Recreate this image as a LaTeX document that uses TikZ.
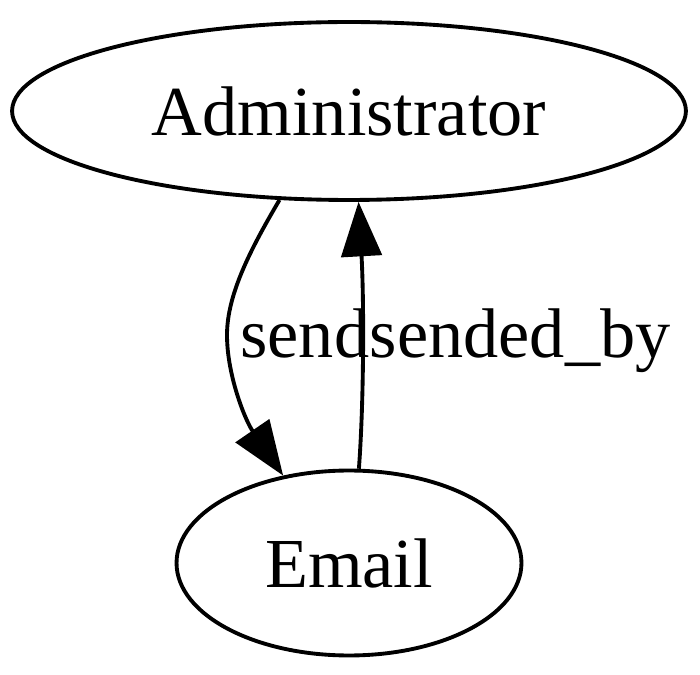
\documentclass[tikz,border=0pt]{standalone}
\usepackage{fontspec}
\setmainfont{Liberation Serif}
\usetikzlibrary{arrows.meta,shapes.geometric}
\begin{document}
\begin{tikzpicture}[x=0.02cm,y=-0.02cm,
    entity/.style={shape=ellipse,draw,line width=2.2pt,inner sep=0pt,font=\fontsize{40}{48}\selectfont},
    rel/.style={line width=2.2pt,-{Triangle[length=31pt,width=23pt]}},
    lbl/.style={anchor=base west,inner sep=0pt,font=\fontsize{40}{48}\selectfont}]
      \useasboundingbox (0,0) rectangle (700,675);
      \node[entity,minimum width=13.48cm,minimum height=3.56cm] (A) at (349,111) {Administrator};
      \node[entity,minimum width=6.9cm,minimum height=3.7cm] (E) at (349,563) {Email};

      \draw[rel] (A.232) .. controls (250,250) and (227,295) .. (227,335)
                         .. controls (227,375) and (245,420) .. (E.127);
      \draw[rel] (E.84) .. controls (364,400) and (364,300) .. (A.276);

      \node[lbl] (send) at (240,358) {send};
      \node[lbl] (sby) at (send.base east) {sended\_by};
    \end{tikzpicture}
\end{document}
